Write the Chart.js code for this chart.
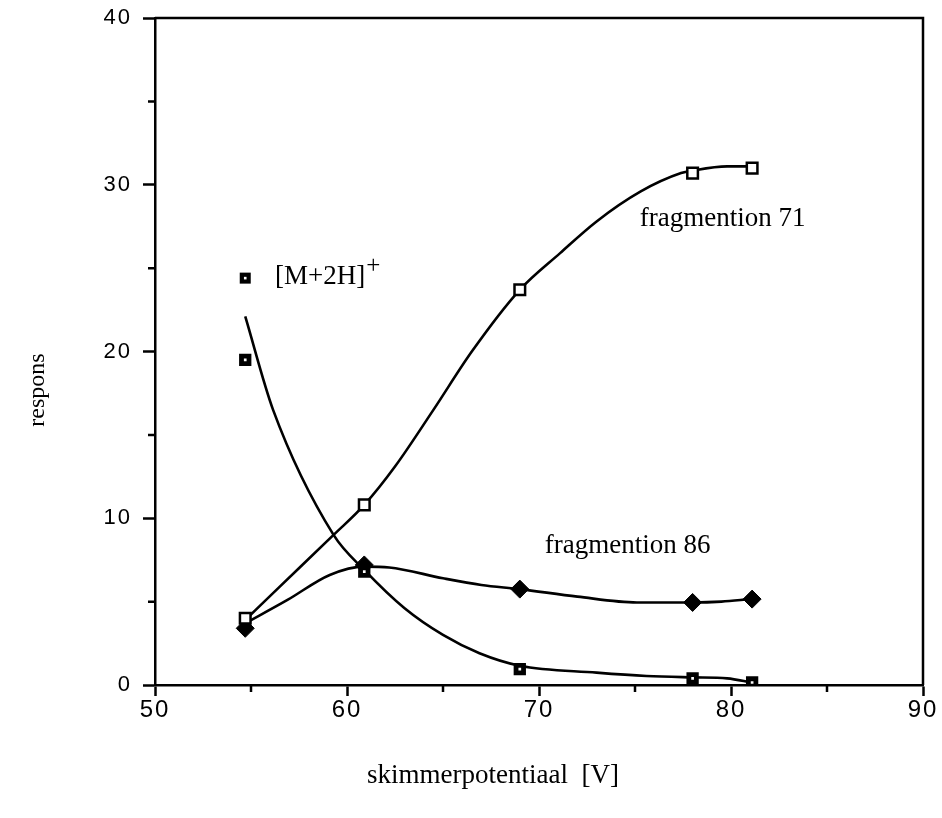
<!DOCTYPE html>
<html>
<head>
<meta charset="utf-8">
<script src="https://cdn.jsdelivr.net/npm/chart.js@4.4.0/dist/chart.umd.min.js"></script>
<style>
html,body{margin:0;padding:0;background:#fff;}
#wrap{width:942px;height:818px;}
</style>
</head>
<body>
<div id="wrap"><canvas id="c" width="942" height="818"></canvas></div>
<script>
// ---- measured points (skimmerpotentiaal, respons) ----
const pointX = [54.7, 60.9, 69.0, 78.0, 81.1];
const ionM2H = [19.5, 6.8, 0.95, 0.4, 0.15];
const frag71 = [4.0, 10.8, 23.7, 30.7, 31.0];
const frag86 = [3.4, 7.2, 5.75, 4.95, 5.15];

// ---- fitted curves ----
const curveM2HX = [54.7, 56.15, 59.3, 60.9, 63.0, 65.0, 66.9, 69.0, 73.0, 75.6, 78.0, 79.8, 81.1];
const curveM2HY = [22.1, 16.5, 9.0, 6.9, 4.6, 3.0, 1.9, 1.15, 0.74, 0.54, 0.46, 0.4, 0.14];
const curve71X = [54.7, 56.5, 59.3, 60.9, 62.5, 64.5, 66.5, 69.0, 71.1, 73.0, 75.3, 77.4, 78.0, 79.8, 81.1];
const curve71Y = [3.9, 5.9, 9.0, 10.8, 13.1, 16.5, 20.0, 23.7, 25.9, 27.8, 29.6, 30.7, 30.85, 31.1, 31.1];
const curve86X = [54.7, 56.9, 59.1, 60.9, 62.2, 65.0, 67.0, 69.0, 72.0, 75.1, 78.0, 79.5, 81.0];
const curve86Y = [3.7, 5.1, 6.6, 7.1, 7.05, 6.4, 6.0, 5.75, 5.3, 4.95, 4.95, 5.0, 5.15];

// ---- axes ----
const xTicks = [50, 60, 70, 80, 90];
const yTicks = [0, 10, 20, 30, 40];
const xMinorTicks = [55, 65, 75, 85];
const yMinorTicks = [5, 15, 25, 35];
const xTitle = 'skimmerpotentiaal  [V]';
const yTitle = 'respons';

// ---- in-plot labels ----
const labelM2H = '[M+2H]';
const labelM2HSup = '+';
const label71 = 'fragmention 71';
const label86 = 'fragmention 86';

const pts = (xs, ys) => xs.map((x, i) => ({x: x, y: ys[i]}));

const SERIF = '"Liberation Serif", "Times New Roman", serif';

const decor = {
  id: 'decor',
  beforeDraw(chart) {
    chart.ctx.letterSpacing = '2px';
  },
  beforeDatasetsDraw(chart) {
    chart.ctx.letterSpacing = '0px';
  },
  afterDraw(chart) {
    const ctx = chart.ctx;
    const xs = chart.scales.x, ys = chart.scales.y;
    const a = chart.chartArea;
    ctx.save();
    ctx.letterSpacing = '0px';
    ctx.strokeStyle = '#000';
    ctx.lineWidth = 2.5;
    // frame top & right
    ctx.beginPath();
    ctx.moveTo(a.left, a.top); ctx.lineTo(a.right, a.top); ctx.lineTo(a.right, a.bottom);
    ctx.stroke();
    // minor ticks
    ctx.beginPath();
    xMinorTicks.forEach(v => { const p = xs.getPixelForValue(v); ctx.moveTo(p, a.bottom); ctx.lineTo(p, a.bottom + 7); });
    yMinorTicks.forEach(v => { const p = ys.getPixelForValue(v); ctx.moveTo(a.left, p); ctx.lineTo(a.left - 7, p); });
    ctx.stroke();

    // legend marker for [M+2H]+
    const mx = xs.getPixelForValue(54.7), my = ys.getPixelForValue(24.4);
    ctx.fillStyle = '#000';
    ctx.fillRect(mx - 5.5, my - 5.5, 11, 11);
    ctx.fillStyle = '#fff';
    ctx.fillRect(mx - 1.3, my - 1.3, 2.6, 2.6);

    // text labels
    ctx.fillStyle = '#000';
    ctx.textBaseline = 'alphabetic';
    ctx.textAlign = 'left';
    ctx.font = '27px ' + SERIF;
    const lx = xs.getPixelForValue(56.25), ly = ys.getPixelForValue(24.4) + 6;
    ctx.fillText(labelM2H, lx, ly);
    const w = ctx.measureText(labelM2H).width;
    ctx.font = '25px ' + SERIF;
    ctx.fillText(labelM2HSup, lx + w + 1, ly - 11);
    ctx.font = '27px ' + SERIF;
    ctx.fillText(label71, xs.getPixelForValue(75.25), ys.getPixelForValue(27.5));
    ctx.fillText(label86, xs.getPixelForValue(70.3), ys.getPixelForValue(7.9));

    // axis titles
    ctx.textAlign = 'center';
    ctx.textBaseline = 'middle';
    ctx.fillText(xTitle, 493, 776);
    ctx.save();
    ctx.translate(38, 390);
    ctx.rotate(-Math.PI / 2);
    ctx.font = '24px ' + SERIF;
    ctx.fillText(yTitle, 0, 0);
    ctx.restore();
    ctx.restore();
  }
};

new Chart(document.getElementById('c'), {
  data: {
    datasets: [
      { type: 'scatter', label: '[M+2H]+', data: pts(pointX, ionM2H), order: 0,
        pointStyle: 'rect', pointRadius: 5.3, borderWidth: 4.8, borderColor: '#000', backgroundColor: '#fff' },
      { type: 'scatter', label: 'fragmention 71', data: pts(pointX, frag71), order: 0,
        pointStyle: 'rect', pointRadius: 7.5, borderWidth: 2.5, borderColor: '#000', backgroundColor: '#fff' },
      { type: 'scatter', label: 'fragmention 86', data: pts(pointX, frag86), order: 0,
        pointStyle: 'rectRot', pointRadius: 9, borderWidth: 1, borderColor: '#000', backgroundColor: '#000' },
      { type: 'line', label: 'fit M2H', data: pts(curveM2HX, curveM2HY), order: 1,
        borderColor: '#000', borderWidth: 2.6, pointRadius: 0, cubicInterpolationMode: 'monotone', fill: false },
      { type: 'line', label: 'fit 71', data: pts(curve71X, curve71Y), order: 1,
        borderColor: '#000', borderWidth: 2.6, pointRadius: 0, cubicInterpolationMode: 'monotone', fill: false },
      { type: 'line', label: 'fit 86', data: pts(curve86X, curve86Y), order: 1,
        borderColor: '#000', borderWidth: 2.6, pointRadius: 0, cubicInterpolationMode: 'monotone', fill: false }
    ]
  },
  options: {
    responsive: false,
    animation: false,
    devicePixelRatio: 1,
    layout: { padding: { left: 0, top: 18, right: 19, bottom: 0 } },
    plugins: { legend: { display: false }, tooltip: { enabled: false }, title: { display: false } },
    scales: {
      x: {
        type: 'linear', position: 'bottom', min: 50, max: 90,
        afterFit(s) { s.height = 133; s.paddingLeft = 0; s.paddingRight = 0; },
        afterBuildTicks(s) { s.ticks = xTicks.map(v => ({value: v})); },
        ticks: { color: '#000', padding: 0, maxRotation: 0,
          font: { family: '"Liberation Sans Narrow", "Liberation Sans", Arial, sans-serif', size: 24 } },
        grid: { display: true, drawOnChartArea: false, drawTicks: true, tickLength: 11, tickColor: '#000', tickWidth: 2.5 },
        border: { display: true, color: '#000', width: 2.5 },
        title: { display: false }
      },
      y: {
        type: 'linear', position: 'left', min: 0, max: 40,
        afterFit(s) { s.width = 155; s.paddingTop = 0; s.paddingBottom = 0; },
        afterBuildTicks(s) { s.ticks = yTicks.map(v => ({value: v})); },
        ticks: { color: '#000', padding: 11,
          font: { family: '"Liberation Sans", Arial, sans-serif', size: 22 } },
        grid: { display: true, drawOnChartArea: false, drawTicks: true, tickLength: 12, tickColor: '#000', tickWidth: 2.5 },
        border: { display: true, color: '#000', width: 2.5 },
        title: { display: false }
      }
    }
  },
  plugins: [decor]
});
</script>
</body>
</html>
